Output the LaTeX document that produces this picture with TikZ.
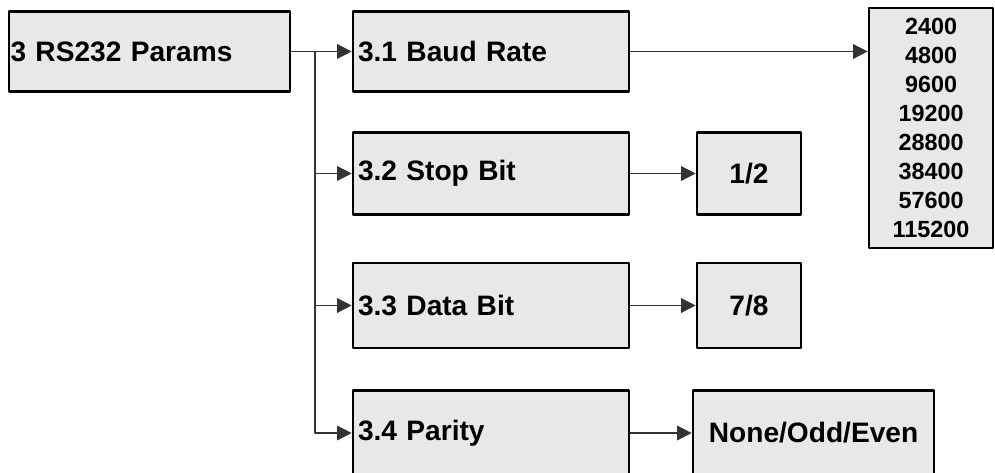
\documentclass[tikz,border=0pt]{standalone}
\usepackage{fontspec}
\setmainfont{Liberation Sans}
\usepackage{tikz}
\usetikzlibrary{arrows.meta}

\begin{document}
\begin{tikzpicture}[line cap=round,line join=round,>={Triangle[length=0.29cm,width=0.29cm]},
    box/.style={draw,line width=1.5pt,fill=black!9,inner ysep=0pt,
      font=\fontsize{16}{19}\selectfont\bfseries},
    leftbox/.style={box,align=left,inner xsep=0.1cm,text width=#1},
    conn/.style={line width=0.8pt,draw=black!80}]
  \useasboundingbox (0,0) rectangle (19.9,-9.44);
  % main box and its four sub menus
  \node [leftbox=5.56cm,inner xsep=0.03cm,minimum height=1.60cm] (params) at (2.99,-1.03) {3 RS232 Params};
  \node [leftbox=5.32cm,minimum height=1.60cm] (b31) at (9.82,-1.03) {3.1 Baud Rate};
  \node [leftbox=5.32cm,minimum height=1.64cm] (b32) at (9.82,-3.47) {3.2 Stop Bit};
  \node [leftbox=5.32cm,minimum height=1.70cm] (b33) at (9.82,-6.11) {3.3 Data Bit};
  \node [leftbox=5.32cm,minimum height=1.70cm] (b34) at (9.82,-8.66) {3.4 Parity};
  % values
  \node [box,minimum width=2.48cm,minimum height=4.80cm,align=center,
         font=\fontsize{13.3}{16.5}\selectfont\bfseries] (baud) at (18.62,-2.56)
        {2400\\4800\\9600\\19200\\28800\\38400\\57600\\115200};
  \node [box,minimum width=2.08cm,minimum height=1.64cm] (v12) at (14.98,-3.47) {1/2};
  \node [box,minimum width=2.08cm,minimum height=1.70cm] (v78) at (14.98,-6.11) {7/8};
  \node [box,minimum width=4.82cm,minimum height=1.70cm] (vpar) at (16.27,-8.66) {None/Odd/Even};
  % connectors
  \coordinate (trunk) at (6.30,-1.03);
  \draw [conn,->] (params.east) -- (b31.west);
  \draw [conn,->] (trunk) |- (b32.west);
  \draw [conn,->] (trunk) |- (b33.west);
  \draw [conn,->] (trunk) |- (b34.west);
  \draw [conn,->] (b31.east) -- (b31.east -| baud.west);
  \draw [conn,->] (b32.east) -- (v12.west);
  \draw [conn,->] (b33.east) -- (v78.west);
  \draw [conn,->] (b34.east) -- (vpar.west);
\end{tikzpicture}
\end{document}
